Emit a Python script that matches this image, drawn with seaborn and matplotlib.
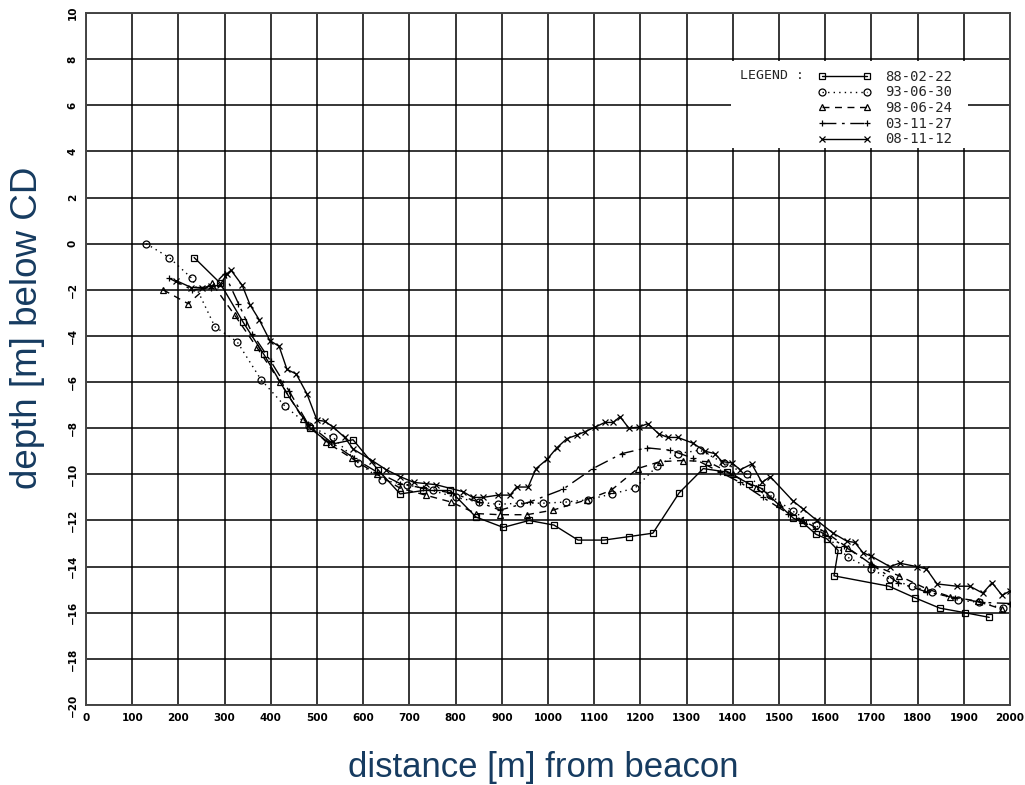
import matplotlib
matplotlib.use("Agg")
import matplotlib.pyplot as plt
from matplotlib.patches import Rectangle
import seaborn as sns
import pandas as pd

# ── survey data: distance [m] from beacon vs depth [m] below CD ──────────────
x_880222 = [234, 290, 340, 385, 435, 485, 530, 578, 632, 680, 730, 788, 844, 903,
            959, 1013, 1065, 1121, 1175, 1227, 1284, 1336, 1387, 1435, 1461, 1531,
            1552, 1580, 1604, 1628, 1619, 1738, 1794, 1848, 1903, 1955]
y_880222 = [-0.6, -1.7, -3.4, -4.8, -6.5, -8.0, -8.7, -8.5, -9.8, -10.85, -10.7,
            -10.7, -11.85, -12.3, -12.0, -12.2, -12.85, -12.85, -12.7, -12.55,
            -10.8, -9.75, -9.9, -10.4, -10.6, -11.9, -12.1, -12.6, -12.8, -13.3,
            -14.4, -14.85, -15.35, -15.8, -16.0, -16.2]

x_930630 = [130, 180, 229, 279, 327, 379, 431, 483, 535, 589, 641, 695, 750, 800,
            850, 892, 939, 990, 1039, 1087, 1138, 1188, 1236, 1282, 1329, 1380,
            1430, 1480, 1530, 1580, 1649, 1700, 1740, 1788, 1831, 1887, 1933, 1985]
y_930630 = [0.0, -0.6, -1.5, -3.6, -4.25, -5.9, -7.05, -7.9, -8.4, -9.5, -10.25,
            -10.45, -10.7, -11.0, -11.2, -11.3, -11.25, -11.25, -11.2, -11.1,
            -10.85, -10.6, -9.65, -9.1, -8.95, -9.5, -10.0, -10.9, -11.6, -12.2,
            -13.6, -14.1, -14.55, -14.85, -15.1, -15.45, -15.55, -15.8]

x_980624 = [167, 221, 272, 322, 370, 420, 470, 520, 575, 630, 680, 735, 790, 845,
            896, 954, 1011, 1084, 1136, 1194, 1242, 1292, 1346, 1400, 1450, 1500,
            1550, 1600, 1650, 1700, 1760, 1818, 1870, 1930, 1983]
y_980624 = [-2.0, -2.6, -1.7, -3.1, -4.5, -6.0, -7.6, -8.6, -9.3, -10.0, -10.6,
            -10.9, -11.2, -11.7, -11.75, -11.75, -11.55, -11.1, -10.7, -9.75,
            -9.45, -9.4, -9.45, -10.0, -10.6, -11.3, -12.0, -12.5, -13.2, -13.9,
            -14.4, -14.95, -15.3, -15.5, -15.85]

x_031127 = [180, 230, 270, 300, 330, 360, 400, 440, 480, 530, 580, 630, 680, 730,
            790, 850, 896, 960, 1032, 1097, 1160, 1214, 1264, 1314, 1372, 1416,
            1465, 1520, 1578, 1640, 1700, 1758, 1820, 1880, 1939, 2000]
y_031127 = [-1.5, -2.0, -1.9, -1.3, -2.6, -3.9, -5.1, -6.4, -7.8, -8.6, -9.3,
            -9.9, -10.4, -10.6, -10.8, -11.2, -11.55, -11.2, -10.65, -9.75, -9.1,
            -8.85, -8.95, -9.3, -9.9, -10.35, -11.0, -11.7, -12.35, -13.1, -13.9,
            -14.7, -15.1, -15.35, -15.55, -15.6]

x_081112 = [195, 228, 250, 270, 290, 305, 314, 338, 355, 375, 398, 418, 435, 455,
            478, 500, 517, 535, 560, 578, 619, 650, 680, 710, 735, 758, 816, 837,
            859, 892, 918, 932, 957, 974, 998, 1019, 1041, 1062, 1080, 1102, 1123,
            1141, 1156, 1175, 1197, 1216, 1240, 1260, 1281, 1314, 1340, 1361, 1377,
            1398, 1416, 1441, 1463, 1481, 1530, 1552, 1582, 1617, 1647, 1664, 1682,
            1700, 1740, 1761, 1798, 1819, 1842, 1885, 1913, 1941, 1961, 1983, 2000]
y_081112 = [-1.6, -1.9, -1.9, -1.85, -1.8, -1.3, -1.15, -1.8, -2.65, -3.3, -4.2,
            -4.45, -5.45, -5.65, -6.5, -7.65, -7.7, -7.95, -8.4, -8.9, -9.4, -9.8,
            -10.1, -10.35, -10.4, -10.45, -10.75, -11.0, -11.0, -10.9, -10.9,
            -10.55, -10.55, -9.75, -9.35, -8.85, -8.45, -8.3, -8.15, -7.95, -7.75,
            -7.75, -7.5, -8.0, -7.95, -7.8, -8.25, -8.4, -8.4, -8.65, -9.0, -9.1,
            -9.45, -9.5, -9.8, -9.55, -10.35, -10.1, -11.15, -11.5, -12.0, -12.55,
            -12.9, -12.95, -13.4, -13.55, -14.0, -13.85, -14.0, -14.1, -14.75,
            -14.85, -14.85, -15.15, -14.7, -15.25, -15.05]

x_ticks = list(range(0, 2001, 100))
y_ticks = list(range(-20, 11, 2))

_BLUE = "#163b60"

# (name, x, y, linestyle, marker)
surveys = [
    ("88-02-22", x_880222, y_880222, "-", "s"),
    ("93-06-30", x_930630, y_930630, (0, (1, 3)), "o"),
    ("98-06-24", x_980624, y_980624, (0, (5, 4)), "^"),
    ("03-11-27", x_031127, y_031127, (0, (10, 4, 2, 4)), "+"),
    ("08-11-12", x_081112, y_081112, "-", "x"),
]

sns.set_theme(style="white")
plt.rcParams["font.family"] = ["DejaVu Sans"]

fig = plt.figure(figsize=(10.25, 7.85), dpi=100)
ax = fig.add_axes([0.0839, 0.1019, 0.9015, 0.8815])

for name, xs, ys, ls, mk in surveys:
    df = pd.DataFrame({"x": xs, "y": ys})
    sns.lineplot(data=df, x="x", y="y", sort=False, estimator=None, ax=ax,
                 color="black", linewidth=1.0, linestyle=ls, marker=mk,
                 markersize=5, markerfacecolor="none", markeredgecolor="black",
                 markeredgewidth=0.9, label=name, zorder=3)

ax.set_xlim(0, 2000)
ax.set_ylim(-20, 10)
ax.set_xticks(x_ticks)
ax.set_yticks(y_ticks)
ax.set_xticklabels([str(v) for v in x_ticks])
ax.set_yticklabels([str(v).replace("-", "\u2212") for v in y_ticks])
ax.set_xlabel("")
ax.set_ylabel("")
ax.grid(True, color="black", linewidth=1.1)
ax.set_axisbelow(True)
for sp in ax.spines.values():
    sp.set_color("#444444")
    sp.set_linewidth(1.4)
ax.tick_params(direction="out", length=4, width=1, pad=2, labelsize=7.5,
               colors="black")
ax.tick_params(axis="y", labelrotation=90)
for lab in ax.get_xticklabels() + ax.get_yticklabels():
    lab.set_fontweight("bold")
for lab in ax.get_yticklabels():
    lab.set_va("center")

# white backdrop for the legend block
ax.add_patch(Rectangle((1396, 4.15), 513, 3.77, facecolor="white",
                       edgecolor="none", zorder=1.8))
ax.text(0.708, 0.910, "LEGEND :", transform=ax.transAxes, va="center",
        ha="left", family="DejaVu Sans Mono", fontsize=9.5, zorder=4)
leg = ax.legend(loc="upper left", bbox_to_anchor=(0.785, 0.928),
                frameon=False, numpoints=2, handlelength=3.8,
                handletextpad=1.0, labelspacing=0.12, borderpad=0,
                prop={"family": "DejaVu Sans Mono", "size": 10})
leg.set_zorder(5)

fig.text(543 / 1025, 1 - 768 / 785, "distance [m] from beacon", ha="center",
         va="center", fontsize=25, color=_BLUE, family="Liberation Sans")
fig.text(28 / 1025, 1 - 328 / 785, "depth [m] below CD", ha="center",
         va="center", rotation=90, fontsize=26.5, color=_BLUE,
         family="Liberation Sans")

fig.savefig("out.png", dpi=100)
